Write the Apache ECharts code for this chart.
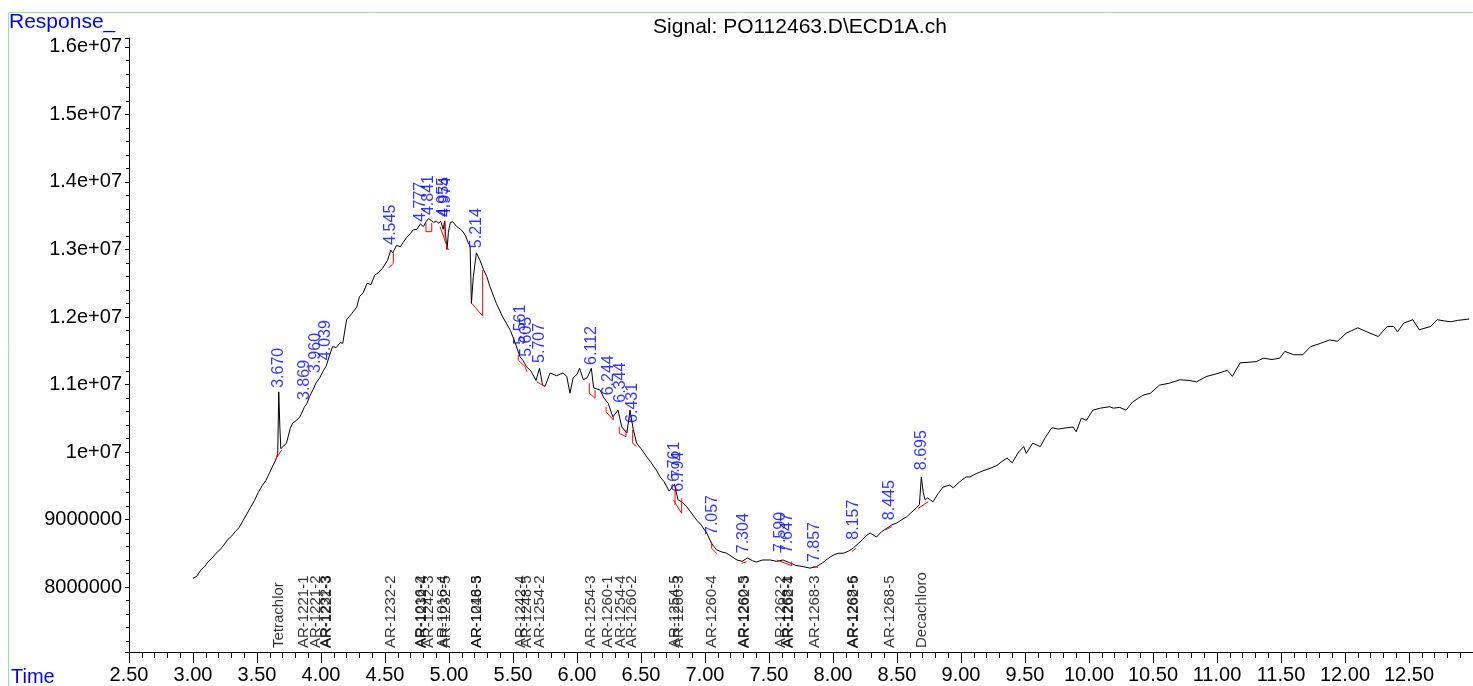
<!DOCTYPE html>
<html>
<head>
<meta charset="utf-8">
<script src="https://cdn.jsdelivr.net/npm/echarts@6/dist/echarts.min.js"></script>
<style>
html,body{margin:0;padding:0;background:#fff;}
#c{width:1473px;height:686px;}
</style>
</head>
<body>
<div id="c"></div>
<script>
// ---- signal trace (time in min, response) ----
const traceTime = [3.000,3.03,3.06,3.09,3.12,3.15,3.18,3.21,3.24,3.27,3.30,3.33,3.36,3.39,3.42,3.45,3.48,3.51,3.54,3.57,3.60,3.63,3.650,3.662,3.670,3.678,3.686,3.70,3.73,3.76,3.78,3.81,3.835,3.869,3.89,3.91,3.94,3.96,3.99,4.02,4.04,4.07,4.09,4.12,4.15,4.17,4.20,4.24,4.28,4.30,4.33,4.36,4.39,4.42,4.45,4.48,4.52,4.545,4.56,4.59,4.62,4.64,4.67,4.70,4.72,4.75,4.777,4.80,4.82,4.841,4.86,4.88,4.90,4.92,4.935,4.955,4.965,4.974,4.985,4.995,5.01,5.03,5.06,5.09,5.11,5.13,5.15,5.165,5.175,5.19,5.214,5.24,5.27,5.295,5.32,5.37,5.42,5.48,5.52,5.555,5.58,5.607,5.64,5.68,5.707,5.73,5.75,5.79,5.84,5.89,5.92,5.945,5.97,6.00,6.02,6.05,6.08,6.112,6.13,6.18,6.21,6.244,6.28,6.32,6.35,6.39,6.414,6.44,6.466,6.50,6.544,6.58,6.62,6.65,6.68,6.72,6.761,6.79,6.82,6.857,6.90,6.935,6.97,7.013,7.05,7.09,7.13,7.17,7.21,7.25,7.29,7.33,7.37,7.40,7.45,7.51,7.56,7.61,7.66,7.71,7.77,7.82,7.87,7.92,7.96,8.00,8.04,8.08,8.12,8.16,8.20,8.23,8.26,8.29,8.34,8.38,8.42,8.46,8.50,8.54,8.575,8.61,8.65,8.675,8.69,8.705,8.72,8.74,8.78,8.82,8.86,8.91,8.94,8.99,9.04,9.07,9.12,9.17,9.23,9.28,9.32,9.36,9.40,9.45,9.49,9.51,9.56,9.62,9.66,9.71,9.76,9.83,9.875,9.90,9.94,9.98,10.03,10.09,10.16,10.19,10.24,10.29,10.34,10.42,10.48,10.55,10.63,10.71,10.78,10.84,10.92,11.00,11.08,11.12,11.18,11.25,11.31,11.36,11.43,11.49,11.53,11.60,11.67,11.73,11.81,11.88,11.94,12.01,12.10,12.17,12.26,12.33,12.38,12.41,12.46,12.53,12.58,12.67,12.72,12.78,12.83,12.88,12.93,12.97];
const traceResp = [8.13e6,8.16e6,8.25e6,8.30e6,8.38e6,8.43e6,8.50e6,8.55e6,8.62e6,8.70e6,8.75e6,8.82e6,8.88e6,8.98e6,9.08e6,9.18e6,9.28e6,9.40e6,9.50e6,9.58e6,9.70e6,9.82e6,9.90e6,9.98e6,10.89e6,10.40e6,10.05e6,10.06e6,10.13e6,10.35e6,10.43e6,10.47e6,10.52e6,10.66e6,10.72e6,10.82e6,10.93e6,11.02e6,11.10e6,11.21e6,11.27e6,11.45e6,11.56e6,11.55e6,11.62e6,11.61e6,11.96e6,12.05e6,12.15e6,12.30e6,12.36e6,12.50e6,12.48e6,12.62e6,12.66e6,12.72e6,12.84e6,12.99e6,12.95e6,13.06e6,13.04e6,13.10e6,13.18e6,13.24e6,13.29e6,13.30e6,13.38e6,13.34e6,13.41e6,13.46e6,13.43e6,13.40e6,13.42e6,13.39e6,13.42e6,13.30e6,13.42e6,13.20e6,13.00e6,13.25e6,13.40e6,13.41e6,13.34e6,13.30e6,13.26e6,13.20e6,13.10e6,13.05e6,12.20e6,12.60e6,12.95e6,12.85e6,12.70e6,12.60e6,12.45e6,12.20e6,12.00e6,11.80e6,11.60e6,11.41e6,11.35e6,11.26e6,11.20e6,11.06e6,11.24e6,11.00e6,10.97e6,11.17e6,11.13e6,11.17e6,11.12e6,10.87e6,11.10e6,11.15e6,11.24e6,11.07e6,11.10e6,11.24e6,10.95e6,10.92e6,10.80e6,10.72e6,10.52e6,10.62e6,10.37e6,10.28e6,10.62e6,10.33e6,10.13e6,10.05e6,9.93e6,9.84e6,9.73e6,9.63e6,9.56e6,9.42e6,9.52e6,9.29e6,9.26e6,9.19e6,9.08e6,8.99e6,8.92e6,8.80e6,8.65e6,8.55e6,8.52e6,8.50e6,8.45e6,8.40e6,8.38e6,8.43e6,8.39e6,8.37e6,8.40e6,8.40e6,8.38e6,8.40e6,8.36e6,8.32e6,8.30e6,8.28e6,8.30e6,8.36e6,8.42e6,8.47e6,8.50e6,8.50e6,8.53e6,8.58e6,8.65e6,8.70e6,8.76e6,8.80e6,8.74e6,8.82e6,8.87e6,8.92e6,8.95e6,9.00e6,9.04e6,9.10e6,9.17e6,9.22e6,9.63e6,9.40e6,9.29e6,9.32e6,9.26e6,9.38e6,9.48e6,9.51e6,9.47e6,9.56e6,9.63e6,9.63e6,9.68e6,9.72e6,9.76e6,9.80e6,9.86e6,9.91e6,9.84e6,10.00e6,10.08e6,9.98e6,10.13e6,10.08e6,10.22e6,10.36e6,10.34e6,10.36e6,10.37e6,10.30e6,10.50e6,10.47e6,10.62e6,10.65e6,10.67e6,10.65e6,10.66e6,10.62e6,10.74e6,10.84e6,10.87e6,10.99e6,11.02e6,11.07e6,11.06e6,11.04e6,11.12e6,11.16e6,11.21e6,11.12e6,11.32e6,11.33e6,11.34e6,11.39e6,11.37e6,11.39e6,11.49e6,11.44e6,11.44e6,11.56e6,11.61e6,11.66e6,11.64e6,11.76e6,11.84e6,11.78e6,11.71e6,11.86e6,11.86e6,11.78e6,11.91e6,11.96e6,11.81e6,11.86e6,11.96e6,11.94e6,11.93e6,11.95e6,11.96e6,11.97e6];

// ---- integrated peaks: retention time and label top (response) ----
const peakTimes = [3.670,3.869,3.960,4.039,4.545,4.777,4.841,4.955,4.974,5.214,5.561,5.605,5.707,6.112,6.244,6.344,6.431,6.761,6.794,7.057,7.304,7.590,7.647,7.857,8.157,8.445,8.695];
const peakLabelResp = [10.95e6,10.77e6,11.17e6,11.36e6,13.07e6,13.41e6,13.51e6,13.48e6,13.48e6,13.02e6,11.59e6,11.41e6,11.32e6,11.29e6,10.84e6,10.73e6,10.43e6,9.56e6,9.41e6,8.77e6,8.50e6,8.52e6,8.50e6,8.37e6,8.70e6,8.99e6,9.73e6];

// ---- integration baselines (time, response) ----
const baselines = [
  [[3.641,9.881e6],[3.693,10.030e6]],
  [[4.526,12.721e6],[4.565,12.796e6],[4.565,12.978e6]],
  [[4.820,13.393e6],[4.820,13.264e6],[4.865,13.264e6],[4.865,13.393e6]],
  [[4.930,13.338e6],[4.995,12.993e6]],
  [[4.969,13.43e6],[4.969,13.185e6]],
  [[5.177,12.203e6],[5.263,12.015e6],[5.263,12.696e6]],
  [[5.541,11.437e6],[5.541,11.363e6],[5.594,11.264e6],[5.609,11.185e6]],
  [[5.685,11.041e6],[5.750,10.967e6]],
  [[6.096,11.019e6],[6.096,10.870e6],[6.141,10.796e6],[6.141,10.919e6]],
  [[6.227,10.671e6],[6.227,10.597e6],[6.284,10.474e6],[6.284,10.523e6]],
  [[6.330,10.375e6],[6.330,10.277e6],[6.383,10.227e6],[6.383,10.326e6]],
  [[6.435,10.326e6],[6.435,10.129e6],[6.466,10.079e6]],
  [[6.752,9.289e6],[6.818,9.092e6],[6.818,9.314e6]],
  [[6.766,9.437e6],[6.766,9.215e6]],
  [[7.052,8.671e6],[7.052,8.573e6],[7.091,8.499e6]],
  [[7.287,8.351e6],[7.326,8.375e6]],
  [[7.560,8.400e6],[7.677,8.316e6],[7.677,8.375e6]],
  [[7.844,8.301e6],[7.883,8.292e6]],
  [[8.146,8.523e6],[8.180,8.573e6]],
  [[8.406,8.844e6],[8.459,8.893e6]],
  [[8.666,9.166e6],[8.745,9.264e6]]
];

// ---- compound identification labels ----
const compoundTimes = [3.670,3.869,3.960,4.039,4.045,4.545,4.777,4.790,4.841,4.955,4.974,5.214,5.220,5.561,5.605,5.707,6.112,6.244,6.344,6.431,6.761,6.794,7.057,7.304,7.310,7.590,7.647,7.655,7.857,8.157,8.163,8.445,8.695];
const compoundNames = ["Tetrachlor","AR-1221-1","AR-1221-2","AR-1232-3","AR-1221-3","AR-1232-2","AR-1016-2","AR-1232-4","AR-1242-3","AR-1016-4","AR-1232-5","AR-1016-5","AR-1248-3","AR-1242-4","AR-1248-5","AR-1254-2","AR-1254-3","AR-1260-1","AR-1254-4","AR-1260-2","AR-1254-5","AR-1260-3","AR-1260-4","AR-1260-5","AR-1262-3","AR-1262-2","AR-1268-1","AR-1262-4","AR-1268-3","AR-1268-6","AR-1262-5","AR-1268-5","Decachloro"];

// ---- axes ----
const xMin = 2.5, xMax = 13.0, xStep = 0.5;
const yMin = 7.037e6, yMax = 16.133e6, yStep = 1e6;

const chart = echarts.init(document.getElementById('c'), null, {renderer: 'canvas'});
const FONT = 'Liberation Sans, Arial, sans-serif';

const series = [];
series.push({
  type: 'line', name: 'signal', symbol: 'none', animation: false,
  lineStyle: {color: '#000', width: 1},
  data: traceTime.map((t, i) => [t, traceResp[i]]),
  z: 3
});
baselines.forEach((seg, k) => {
  series.push({
    type: 'line', name: 'base' + k, symbol: 'none', animation: false,
    lineStyle: {color: '#ff0000', width: 1},
    data: seg, z: 4
  });
});
series.push({
  type: 'scatter', name: 'peaks', symbolSize: 0, animation: false,
  data: peakTimes.map((t, i) => [t, peakLabelResp[i]]),
  label: {
    show: true, position: 'top', distance: 0, rotate: 90,
    align: 'left', verticalAlign: 'middle',
    color: '#0000ff', fontFamily: FONT, fontSize: 16,
    formatter: p => p.value[0].toFixed(3)
  },
  z: 5
});
series.push({
  type: 'scatter', name: 'compounds', symbolSize: 0, animation: false,
  data: compoundTimes.map((t, i) => ({value: [t, yMin], name: compoundNames[i]})),
  label: {
    show: true, position: 'top', distance: 4, rotate: 90,
    align: 'left', verticalAlign: 'middle',
    color: '#000', fontFamily: FONT, fontSize: 15,
    formatter: p => p.name
  },
  z: 5
});

chart.setOption({
  animation: false,
  backgroundColor: '#fff',
  grid: {left: 129, right: 0, top: 38, bottom: 34, containLabel: false},
  xAxis: {
    type: 'value', min: xMin, max: xMax, interval: xStep,
    axisLine: {show: true, onZero: false, lineStyle: {color: '#000', width: 1}},
    axisTick: {show: true, inside: false, length: 11, lineStyle: {color: '#000'}},
    minorTick: {show: true, splitNumber: 5, length: 6, lineStyle: {color: '#000'}},
    splitLine: {show: false},
    axisLabel: {
      color: '#000', fontFamily: FONT, fontSize: 20, margin: 13,
      showMaxLabel: false,
      formatter: v => v.toFixed(2)
    }
  },
  yAxis: {
    type: 'value', min: yMin, max: yMax, splitNumber: 9,
    minInterval: yStep, maxInterval: yStep,
    axisLine: {show: true, onZero: false, lineStyle: {color: '#000', width: 1}},
    axisTick: {show: true, inside: false, length: 4, lineStyle: {color: '#000'}},
    minorTick: {show: true, splitNumber: 5, length: 3, lineStyle: {color: '#000'}},
    splitLine: {show: false},
    axisLabel: {
      color: '#000', fontFamily: FONT, fontSize: 20, margin: 7,
      showMinLabel: false, showMaxLabel: false,
      formatter: v => {
        const r = Math.round(v / yStep);
        if (Math.abs(v - r * yStep) > 1) return '';
        if (v >= 1e7) return (Math.round(v / 1e5) / 100) + 'e+07';
        return String(Math.round(v));
      }
    }
  },
  graphic: [
    {type: 'rect', silent: true, z: 0, shape: {x: 8.5, y: 12.5, width: 1470, height: 690},
     style: {fill: 'none', stroke: '#90ee90', lineWidth: 1}},
    {type: 'text', left: 9, top: 12, style: {text: 'Response_', fill: '#0000ff', font: '21px ' + FONT}},
    {type: 'text', left: 11, top: 667, style: {text: 'Time', fill: '#0000ff', font: '20px ' + FONT}},
    {type: 'text', x: 800, y: 27, style: {text: 'Signal: PO112463.D\\ECD1A.ch', fill: '#000', font: '21px ' + FONT, textAlign: 'center', textVerticalAlign: 'middle'}}
  ],
  series: series
});
</script>
</body>
</html>
